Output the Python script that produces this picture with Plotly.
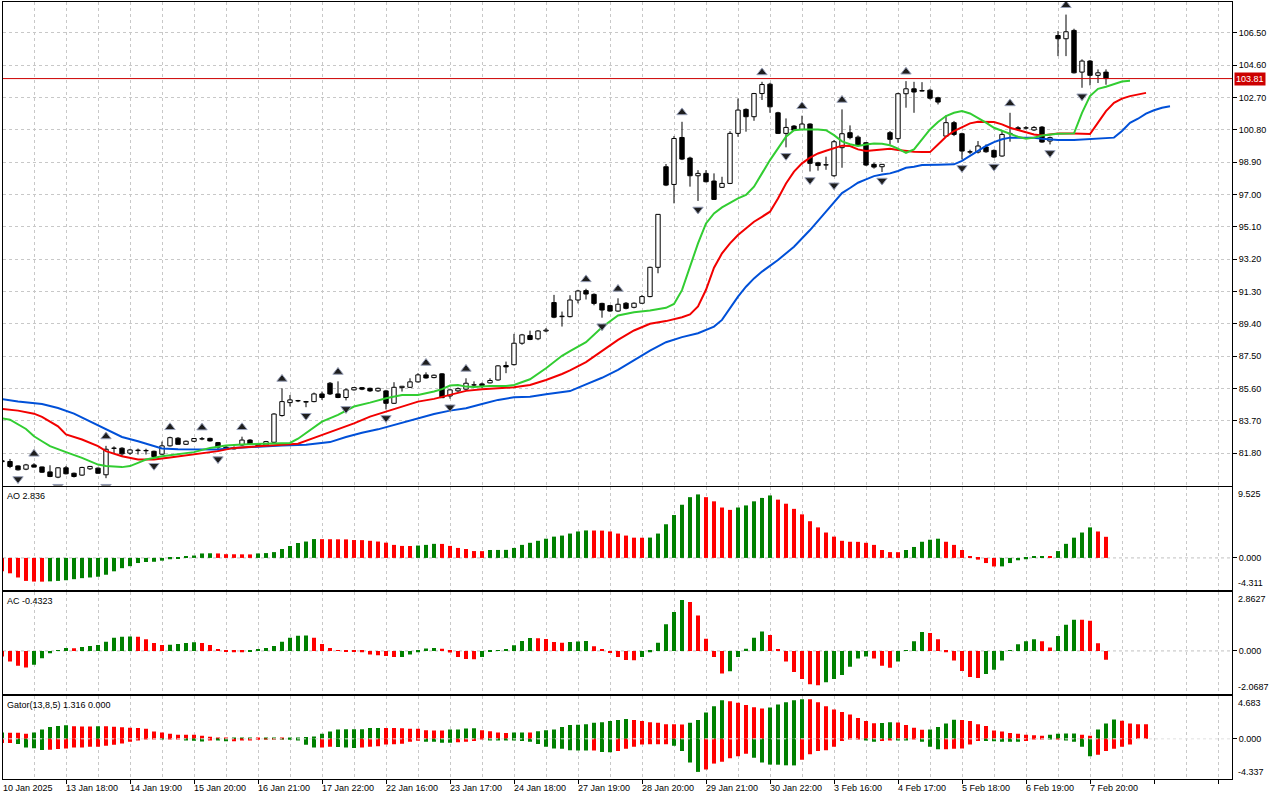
import plotly.graph_objects as go

# ---------------- data ----------------
date_labels = ["10 Jan 2025", "13 Jan 18:00", "14 Jan 19:00", "15 Jan 20:00", "16 Jan 21:00",
               "17 Jan 22:00", "22 Jan 16:00", "23 Jan 17:00", "24 Jan 18:00", "27 Jan 19:00",
               "28 Jan 20:00", "29 Jan 21:00", "30 Jan 22:00", "3 Feb 16:00", "4 Feb 17:00",
               "5 Feb 18:00", "6 Feb 19:00", "7 Feb 20:00"]
date_bars = list(range(0, 137, 8))

opens = [81.35,81.31,81.05,80.86,81.11,80.99,80.70,80.39,80.94,80.62,
         80.51,80.88,80.92,80.53,82.08,82.09,81.80,81.95,81.94,81.91,
         81.74,82.23,82.68,82.32,82.50,82.63,82.67,82.42,82.15,82.05,
         82.28,82.57,82.34,82.28,82.44,84.01,84.77,84.87,84.83,84.83,
         85.28,85.91,85.28,85.07,85.52,85.65,85.61,85.46,85.46,84.73,
         85.65,85.67,85.99,86.40,86.24,86.46,85.16,85.46,85.56,85.80,
         85.87,85.93,86.10,86.95,87.00,88.26,88.71,88.52,88.98,90.65,
         89.82,89.82,90.80,91.35,91.13,90.60,90.47,90.15,90.61,90.37,
         90.61,91.00,92.72,98.63,97.59,100.35,99.14,98.10,98.24,97.79,
         97.42,97.65,100.59,102.00,101.57,102.93,103.48,101.80,100.59,101.02,
         100.82,101.14,98.86,98.73,98.10,99.75,100.63,100.37,100.04,98.77,
         98.63,100.63,100.28,102.92,103.21,103.10,103.13,102.68,100.43,101.22,
         100.57,99.50,99.49,99.79,99.59,99.26,100.57,100.92,100.90,100.79,
         100.96,100.14,106.34,106.15,106.64,104.19,104.84,104.00,104.19]
highs = [81.50,81.46,81.08,81.17,81.21,81.01,81.09,80.98,81.05,80.66,
         81.00,81.05,80.96,82.23,82.20,82.15,82.05,82.07,82.06,81.95,
         82.48,82.77,82.74,82.54,82.68,82.75,82.71,82.46,82.22,82.20,
         82.77,82.62,82.38,82.52,84.15,85.61,85.22,84.93,84.87,85.36,
         85.42,85.98,86.02,85.61,85.69,85.69,85.65,85.65,85.52,85.97,
         85.75,86.20,86.50,86.55,86.42,86.50,85.56,85.66,86.20,86.02,
         85.95,86.20,86.97,87.18,88.81,88.81,89.00,89.03,89.15,91.10,
         90.12,91.08,91.40,91.46,91.19,90.64,90.51,90.90,90.68,90.66,
         91.10,92.76,95.85,98.79,100.43,101.27,99.22,98.43,98.43,98.24,
         98.04,100.72,102.64,102.06,102.97,103.62,103.56,101.86,101.47,101.08,
         101.63,101.18,98.92,99.22,100.20,102.00,101.06,100.47,100.08,98.87,
         98.77,100.73,102.98,103.66,103.62,103.60,103.21,102.74,101.65,101.32,
         100.63,99.63,100.14,99.94,99.65,100.73,101.80,101.02,101.02,101.02,
         101.02,100.40,106.60,107.57,106.74,104.94,104.90,104.35,104.35]
lows = [81.15,80.92,80.78,80.80,80.96,80.64,80.39,80.33,80.55,80.37,
        80.47,80.82,80.60,80.33,81.80,81.60,81.70,81.72,81.72,81.56,
        81.70,82.19,82.30,82.28,82.45,82.56,82.48,81.95,82.00,82.02,
        82.23,82.30,82.20,82.22,82.38,83.95,84.54,84.80,84.50,84.79,
        84.93,85.22,85.03,84.90,85.48,85.50,85.40,85.40,84.37,84.69,
        85.42,85.63,85.95,86.18,86.20,85.04,85.00,85.38,85.52,85.70,
        85.62,85.90,86.06,86.50,86.95,88.17,88.44,88.44,88.91,89.73,
        89.24,89.78,90.60,90.83,90.49,89.76,90.11,90.11,90.25,90.31,
        90.57,90.96,92.37,97.49,96.48,99.02,97.46,96.62,97.71,96.70,
        97.38,97.61,100.39,100.69,101.33,102.55,101.80,100.55,99.77,100.74,
        100.78,98.35,98.40,98.45,98.04,98.57,100.24,99.85,98.67,98.52,
        98.32,99.94,100.04,102.10,101.80,103.06,102.58,102.29,100.39,100.43,
        99.06,99.37,99.41,99.45,99.14,99.22,100.10,100.73,100.83,100.73,
        100.04,99.94,105.13,105.13,104.11,103.27,103.41,103.55,103.45]
closes = [81.30,81.02,80.82,81.11,80.98,80.68,80.43,80.94,80.59,80.43,
          80.96,81.02,80.62,82.03,82.10,81.76,81.99,81.98,81.96,81.60,
          82.23,82.71,82.32,82.50,82.66,82.65,82.52,82.15,82.02,82.12,
          82.57,82.34,82.25,82.48,84.10,84.83,84.93,84.88,84.80,85.28,
          85.07,85.28,85.07,85.52,85.65,85.56,85.46,85.61,84.73,85.67,
          85.73,85.99,86.40,86.22,86.38,85.06,85.52,85.59,85.91,85.82,
          85.77,86.07,86.93,86.87,88.26,88.75,88.48,88.98,89.03,89.79,
          89.85,90.80,91.33,91.15,90.60,90.21,90.15,90.55,90.31,90.61,
          91.00,92.72,95.83,97.55,100.29,99.08,98.10,98.24,97.75,96.71,
          97.65,100.59,101.96,101.57,102.93,103.46,102.15,100.59,100.94,100.78,
          101.14,98.83,98.70,98.75,100.10,100.57,100.34,99.89,98.73,98.61,
          98.77,100.24,102.92,103.21,103.02,103.08,102.66,102.43,101.22,100.53,
          99.55,99.49,99.85,99.51,99.20,100.53,100.58,100.83,100.92,100.94,
          100.08,100.34,106.15,106.56,104.15,104.84,104.00,104.15,103.81]

# Alligator lines (read at the bars where they were measured)
jaw_x = [0,2,5,7,9,11,13,15,17,19,20,22,25,27,29,31,33,35,38,41,43,45,47,50,52,54,56,58,60,62,
         64,66,68,70,71,73,75,77,79,81,83,85,87,89,90,91,92,93,94,95,97,99,101,103,104,105,106,
         107,108,109,110,111,112,113,114,115,117,119,120,121,122,123,124,125,126,129,130,132,134,
         136,138,139,140,141,142,143,144,145,146]
jaw_y = [84.98,84.84,84.69,84.45,84.12,83.67,83.18,82.75,82.50,82.21,82.07,82.03,82.01,82.01,82.11,
         82.17,82.21,82.25,82.30,82.45,82.75,83.00,83.20,83.59,83.85,84.10,84.30,84.44,84.69,84.93,
         85.08,85.12,85.26,85.40,85.45,85.84,86.23,86.70,87.29,87.83,88.32,88.62,88.85,89.24,89.63,
         90.31,91.00,91.58,92.07,92.47,93.15,93.93,94.91,95.99,96.57,97.08,97.38,97.69,97.89,98.08,
         98.18,98.24,98.38,98.57,98.63,98.73,98.75,98.77,98.97,99.26,99.55,99.85,100.08,100.24,100.34,
         100.34,100.28,100.20,100.20,100.24,100.28,100.34,100.73,101.21,101.45,101.75,101.95,102.10,102.18]
teeth_x = [0,2,4,5,7,8,10,12,13,15,17,19,21,23,25,27,29,31,33,35,37,39,41,42,44,46,48,50,52,54,
           56,58,60,62,64,66,68,70,71,73,75,77,79,81,83,85,86,87,88,89,90,91,92,93,94,95,96,97,98,
           99,100,101,102,103,104,105,106,107,108,109,110,111,112,113,114,115,116,117,118,119,120,
           121,122,123,124,125,126,127,128,129,130,131,132,134,135,136,137,138,139,140,141,142,143]
teeth_y = [84.40,84.30,84.12,83.93,83.38,82.90,82.60,82.21,81.92,81.62,81.43,81.43,81.54,81.66,81.76,
           81.92,82.11,82.17,82.21,82.25,82.35,82.70,83.05,83.22,83.55,83.95,84.24,84.54,84.83,84.99,
           85.22,85.46,85.56,85.61,85.67,85.81,86.10,86.45,86.66,87.15,87.83,88.46,89.01,89.40,89.56,
           89.79,89.95,90.42,91.40,92.70,93.54,94.13,94.62,95.01,95.40,95.69,95.99,96.77,97.65,98.34,
           98.83,99.16,99.41,99.57,99.71,99.87,99.85,99.65,99.55,99.61,99.65,99.69,99.61,99.55,99.51,
           99.49,99.49,99.94,100.39,100.73,100.98,101.18,101.27,101.27,101.26,101.12,100.92,100.79,
           100.67,100.53,100.47,100.53,100.59,100.59,100.59,100.55,101.22,101.90,102.39,102.63,102.78,
           102.88,102.97]
lips_x = [0,1,3,4,5,6,8,10,12,13,15,16,17,18,20,22,24,26,28,30,32,35,36,37,38,40,42,44,46,48,
          50,52,54,55,56,57,58,59,61,63,64,66,68,70,71,73,75,77,79,81,83,84,85,86,87,88,89,90,91,
          92,93,94,95,96,97,98,99,100,102,103,104,105,106,107,108,109,110,111,112,113,114,115,116,
          117,118,119,120,121,122,123,124,125,126,127,128,129,130,131,132,134,135,136,137,138,139,
          140,141]
lips_y = [83.85,83.77,83.22,82.79,82.50,82.21,81.86,81.52,81.13,81.04,80.98,81.04,81.23,81.43,81.62,
          81.72,81.86,82.11,82.25,82.31,82.34,82.38,82.40,82.65,83.00,83.65,84.05,84.54,84.77,85.03,
          85.22,85.22,85.42,85.56,85.77,85.81,85.71,85.69,85.75,85.75,85.81,86.14,86.79,87.52,87.80,
          88.32,89.20,89.89,90.08,90.18,90.34,90.57,91.38,92.76,94.13,95.30,95.89,96.24,96.52,96.77,
          96.97,97.46,98.24,99.02,99.71,100.39,100.78,100.82,100.82,100.78,100.49,100.12,99.95,99.85,
          99.94,100.00,99.98,99.89,99.69,99.45,99.65,100.24,100.82,101.26,101.61,101.80,101.90,101.76,
          101.51,101.22,100.92,100.73,100.57,100.39,100.28,100.34,100.47,100.53,100.57,100.59,101.80,
          102.78,103.21,103.33,103.47,103.64,103.68]

up_fractals = [4,13,21,25,30,35,42,53,58,73,77,85,95,100,105,113,126,133]
down_fractals = [2,7,13,19,27,38,43,48,56,75,87,98,101,104,110,120,124,131,135]

ao = [-1.80,-2.07,-2.63,-3.09,-3.18,-3.19,-3.15,-3.09,-3.00,-2.86,
      -2.72,-2.63,-2.53,-2.26,-1.80,-1.38,-1.11,-0.69,-0.55,-0.52,
      -0.37,-0.18,-0.05,0.18,0.32,0.60,0.62,0.60,0.50,0.49,
      0.48,0.47,0.60,0.65,0.78,1.20,1.60,2.00,2.20,2.53,
      2.52,2.51,2.50,2.49,2.40,2.39,2.30,2.20,2.05,1.75,
      1.61,1.60,1.66,1.75,1.89,1.88,1.61,1.34,1.20,0.92,
      0.91,1.06,1.07,1.08,1.34,1.75,2.03,2.30,2.58,2.86,
      3.00,3.27,3.55,3.69,3.68,3.67,3.55,3.27,3.00,2.72,
      2.71,2.73,3.27,4.52,5.76,7.14,8.16,8.53,8.16,7.60,
      6.77,6.45,6.77,7.05,7.60,8.06,8.39,7.83,7.28,6.59,
      5.85,4.93,4.10,3.41,2.86,2.30,2.17,2.16,2.03,1.75,
      1.06,0.78,0.77,1.06,1.47,2.17,2.44,2.58,2.17,1.75,
      1.06,0.23,-0.23,-0.69,-1.15,-1.14,-0.69,-0.32,-0.18,0.14,
      0.23,0.14,0.92,1.89,2.72,3.41,4.10,3.55,2.836]
ac = [-0.27,-0.52,-0.72,-0.80,-0.67,-0.36,-0.11,0.02,0.14,0.13,
      0.19,0.24,0.29,0.44,0.64,0.69,0.70,0.69,0.57,0.39,
      0.29,0.30,0.34,0.39,0.42,0.39,0.29,0.09,-0.02,-0.06,
      -0.07,-0.03,0.07,0.14,0.24,0.44,0.64,0.74,0.75,0.64,
      0.34,0.14,0.01,-0.01,-0.02,-0.06,-0.17,-0.21,-0.25,-0.30,
      -0.29,-0.17,-0.07,0.12,0.14,0.10,-0.08,-0.30,-0.39,-0.40,
      -0.29,-0.05,0.03,0.08,0.28,0.48,0.63,0.62,0.58,0.43,
      0.40,0.43,0.46,0.48,0.23,0.06,-0.10,-0.30,-0.44,-0.45,
      -0.30,-0.07,0.40,1.29,1.89,2.47,2.38,1.72,0.59,-0.30,
      -1.10,-0.99,-0.30,0.11,0.64,0.94,0.77,0.07,-0.52,-1.02,
      -1.37,-1.62,-1.67,-1.52,-1.37,-1.17,-0.77,-0.37,-0.27,-0.37,
      -0.72,-0.82,-0.52,0.02,0.47,0.92,0.87,0.57,-0.06,-0.47,
      -0.97,-1.27,-1.32,-1.12,-0.92,-0.47,0.02,0.32,0.47,0.57,
      0.47,0.17,0.72,1.27,1.52,1.51,1.47,0.37,-0.4323]
gator_up = [0.68,0.67,0.66,0.56,0.68,1.02,1.28,1.39,1.47,1.35,
            1.34,1.33,1.36,1.35,1.32,1.24,1.20,1.16,1.09,0.79,
            0.68,0.56,0.45,0.44,0.43,0.34,0.22,0.11,0.04,0.10,
            0.12,0.13,0.10,0.11,0.12,0.10,0.12,0.13,0.20,0.26,
            0.56,0.79,1.02,1.03,1.04,1.05,1.17,1.18,1.17,1.16,
            1.15,1.09,1.08,0.94,0.90,0.89,1.00,1.01,1.13,1.14,
            0.94,0.83,0.68,0.64,0.68,0.69,0.68,0.83,0.94,1.02,
            1.28,1.50,1.51,1.58,1.73,1.80,1.92,2.03,2.14,2.03,
            1.92,1.80,1.73,1.58,1.57,1.56,1.73,2.03,2.86,3.53,
            4.17,4.06,3.91,3.65,3.42,3.27,3.38,3.72,3.95,4.17,
            4.29,4.28,3.95,3.53,3.16,2.90,2.63,2.26,1.92,1.69,
            1.70,1.80,1.77,1.50,1.20,0.98,1.01,1.28,1.65,2.05,
            2.03,1.92,1.58,1.39,0.90,0.79,0.64,0.56,0.45,0.38,
            0.34,0.45,0.56,0.57,0.58,0.45,0.34,1.02,1.65,2.10,
            1.95,1.65,1.58,1.57]
gator_dn = [-0.45,-0.44,-0.56,-0.94,-1.01,-1.20,-1.17,-1.09,-1.05,-0.94,
            -0.93,-0.86,-0.85,-0.75,-0.64,-0.49,-0.30,-0.08,-0.04,-0.02,
            -0.05,-0.03,-0.02,-0.15,-0.20,-0.28,-0.10,-0.18,-0.27,-0.26,
            -0.18,-0.08,-0.04,-0.03,-0.02,-0.04,-0.06,-0.18,-0.64,-0.94,
            -0.93,-0.86,-0.87,-0.94,-1.00,-0.94,-0.86,-0.80,-0.60,-0.59,
            -0.53,-0.30,-0.20,-0.30,-0.31,-0.41,-0.42,-0.38,-0.30,-0.23,
            -0.02,-0.10,-0.11,-0.12,-0.19,-0.23,-0.30,-0.56,-0.86,-1.05,
            -1.06,-1.24,-1.25,-1.26,-1.25,-1.43,-1.44,-1.32,-1.06,-0.86,
            -0.60,-0.59,-0.58,-0.57,-0.75,-1.32,-2.56,-3.57,-3.31,-2.67,
            -2.48,-2.10,-1.88,-1.62,-2.05,-2.56,-2.78,-2.79,-2.86,-2.87,
            -2.26,-1.65,-1.32,-1.24,-0.86,-0.23,-0.05,-0.02,-0.11,-0.30,
            -0.23,-0.11,-0.12,-0.13,-0.05,-0.30,-0.86,-1.13,-1.12,-1.06,
            -1.05,-0.60,-0.23,-0.24,-0.25,-0.30,-0.31,-0.32,-0.23,-0.02,
            -0.01,-0.04,-0.02,-0.11,-0.30,-0.86,-1.88,-1.73,-1.32,-1.06,
            -0.86,-0.60]

price_ticks = [81.80, 83.70, 85.60, 87.50, 89.40, 91.30, 93.20, 95.10, 97.00, 98.90,
               100.80, 102.70, 104.60, 106.50]
main_range = [79.90, 108.31]
ao_range = [-4.311, 9.525]
ac_range = [-2.0687, 2.8627]
gator_range = [-4.337, 4.683]
gator_title = "Gator(13,8,5) 1.316 0.000"

# ---------------- styles ----------------
GREEN = "#008000"
RED = "#ff0000"
GRID = "#c8c8c8"
DASH = "3px,3px"
FONT = "Liberation Sans, Arial, sans-serif"
FS = 9

def updown(vals, use_abs=False, first=RED):
    out = []
    for i, v in enumerate(vals):
        if i == 0:
            out.append(first)
            continue
        a = abs(v) if use_abs else v
        b = abs(vals[i - 1]) if use_abs else vals[i - 1]
        out.append(GREEN if a > b else RED)
    return out

n = len(opens)
idx = list(range(n))
body_lo = [min(o, c) for o, c in zip(opens, closes)]
body_hi = [max(o, c) for o, c in zip(opens, closes)]
body_h = [max(h - l, 0.02) for h, l in zip(body_hi, body_lo)]
body_fill = ["white" if c >= o else "black" for o, c in zip(opens, closes)]

wx, wy = [], []
for i in idx:
    wx += [i, i, None, i, i, None]
    wy += [lows[i], body_lo[i], None, body_hi[i], highs[i], None]

fig = go.Figure()

fig.add_trace(go.Bar(x=idx, y=body_h, base=body_lo, width=0.55,
                     marker=dict(color=body_fill, line=dict(color="black", width=1)),
                     xaxis="x", yaxis="y", hoverinfo="skip"))
fig.add_trace(go.Scatter(x=wx, y=wy, mode="lines", line=dict(color="black", width=1),
                         xaxis="x", yaxis="y", hoverinfo="skip"))
fig.add_trace(go.Scatter(x=jaw_x, y=jaw_y, mode="lines", line=dict(color="#0050d8", width=2),
                         xaxis="x", yaxis="y"))
fig.add_trace(go.Scatter(x=teeth_x, y=teeth_y, mode="lines", line=dict(color="#f20000", width=2),
                         xaxis="x", yaxis="y"))
fig.add_trace(go.Scatter(x=lips_x, y=lips_y, mode="lines", line=dict(color="#32cd32", width=2),
                         xaxis="x", yaxis="y"))

up_off = 0.55
dn_off = 0.5
fig.add_trace(go.Scatter(x=up_fractals, y=[highs[i] + up_off for i in up_fractals], mode="markers",
                         marker=dict(symbol="triangle-up", size=9, color="#1e1e1e",
                                     line=dict(color="#98a0b8", width=1)),
                         xaxis="x", yaxis="y"))
fig.add_trace(go.Scatter(x=down_fractals, y=[lows[i] - dn_off for i in down_fractals], mode="markers",
                         marker=dict(symbol="triangle-down", size=9, color="#1e1e1e",
                                     line=dict(color="#98a0b8", width=1)),
                         xaxis="x", yaxis="y"))

fig.add_trace(go.Bar(x=idx, y=ao, width=0.5, marker=dict(color=updown(ao), line=dict(width=0)),
                     xaxis="x2", yaxis="y2"))
fig.add_trace(go.Bar(x=idx, y=ac, width=0.5, marker=dict(color=updown(ac), line=dict(width=0)),
                     xaxis="x3", yaxis="y3"))
fig.add_trace(go.Bar(x=list(range(len(gator_up))), y=gator_up, width=0.5,
                     marker=dict(color=updown(gator_up, True, GREEN), line=dict(width=0)),
                     xaxis="x4", yaxis="y4"))
fig.add_trace(go.Bar(x=list(range(len(gator_dn))), y=gator_dn, width=0.5,
                     marker=dict(color=updown(gator_dn, True, RED), line=dict(width=0)),
                     xaxis="x4", yaxis="y4"))

# ---------------- layout ----------------
def frac(ypx):
    return (779 - ypx) / 777.0

xr = [0.125, 153.75]
def xax(anchor, bottom=False):
    d = dict(range=xr, anchor=anchor, tickmode="linear", tick0=0, dtick=8,
             showgrid=True, gridcolor=GRID, griddash=DASH, gridwidth=1,
             minor=dict(tick0=0, dtick=4, showgrid=True, gridcolor=GRID, griddash=DASH, gridwidth=1),
             showticklabels=False, showline=True, mirror=True, linecolor="black", linewidth=1,
             zeroline=False, fixedrange=True)
    if bottom:
        d.update(ticks="outside", ticklen=4, tickcolor="black", tickwidth=1)
    else:
        d.update(ticks="")
    if anchor != "y":
        d["matches"] = "x"
    return d

def yax(dom, rng, anchor):
    return dict(domain=dom, range=rng, anchor=anchor, side="right", showline=True, mirror=True,
                linecolor="black", linewidth=1, zeroline=False, ticks="outside", ticklen=4,
                tickcolor="black", tickfont=dict(family=FONT, size=FS, color="black"),
                fixedrange=True)

ymain = yax([frac(485.5), 1.0], main_range, "x")
ymain.update(tickvals=price_ticks, ticktext=[f"{v:.2f}" for v in price_ticks],
             showgrid=True, gridcolor=GRID, griddash=DASH, gridwidth=1)
y2 = yax([frac(590), frac(487)], ao_range, "x2")
y2.update(tickvals=[0], ticktext=["0.000"], showgrid=False)
y3 = yax([frac(693.5), frac(592)], ac_range, "x3")
y3.update(tickvals=[0], ticktext=["0.000"], showgrid=False)
y4 = yax([0.0, frac(695.5)], gator_range, "x4")
y4.update(tickvals=[0], ticktext=["0.000"], showgrid=False)

shapes = [
    dict(type="line", xref="x domain", x0=0, x1=1, yref="y", y0=closes[-1], y1=closes[-1],
         line=dict(color="#cc0000", width=1), layer="above"),
    dict(type="line", xref="x2 domain", x0=0, x1=1, yref="y2", y0=0, y1=0,
         line=dict(color="#c0c0c0", width=1, dash=DASH), layer="below"),
    dict(type="line", xref="x3 domain", x0=0, x1=1, yref="y3", y0=0, y1=0,
         line=dict(color="#c0c0c0", width=1, dash=DASH), layer="below"),
    dict(type="line", xref="x4 domain", x0=0, x1=1, yref="y4", y0=0, y1=0,
         line=dict(color="#e0e0e0", width=1, dash=DASH), layer="above"),
]

tf = dict(family=FONT, size=FS, color="black")
ann = []
for b, t in zip(date_bars, date_labels):
    ann.append(dict(x=max(b, xr[0] + 0.01), xref="x4", y=frac(788), yref="paper", text=t,
                    showarrow=False, xanchor="left", yanchor="middle", xshift=-2, font=tf))
ann.append(dict(x=0.002, xref="paper", y=frac(496), yref="paper", text=f"AO {ao[-1]:.3f}",
                showarrow=False, xanchor="left", yanchor="middle", font=tf))
ann.append(dict(x=0.002, xref="paper", y=frac(601), yref="paper", text=f"AC {ac[-1]:.4f}",
                showarrow=False, xanchor="left", yanchor="middle", font=tf))
ann.append(dict(x=0.002, xref="paper", y=frac(704.5), yref="paper", text=gator_title,
                showarrow=False, xanchor="left", yanchor="middle", font=tf))
for yref, rng, fmt in [("y2", ao_range, "{:.3f}"), ("y3", ac_range, "{:.4f}"), ("y4", gator_range, "{:.3f}")]:
    ann.append(dict(x=1, xref="paper", y=rng[1], yref=yref, text=fmt.format(rng[1]), showarrow=False,
                    xanchor="left", yanchor="top", xshift=4, font=tf))
    ann.append(dict(x=1, xref="paper", y=rng[0], yref=yref, text=fmt.format(rng[0]), showarrow=False,
                    xanchor="left", yanchor="bottom", xshift=4, font=tf))
ann.append(dict(x=1, xref="paper", y=closes[-1], yref="y", text=f"{closes[-1]:.2f}", showarrow=False,
                xanchor="left", yanchor="middle", xshift=2, bgcolor="#cc0000", borderpad=1,
                font=dict(family=FONT, size=FS, color="white")))

fig.update_layout(
    width=1280, height=800, autosize=False,
    margin=dict(l=3, r=48, t=2, b=21),
    paper_bgcolor="white", plot_bgcolor="white",
    showlegend=False, barmode="overlay", hovermode=False,
    xaxis=xax("y"), xaxis2=xax("y2"), xaxis3=xax("y3"), xaxis4=xax("y4", bottom=True),
    yaxis=ymain, yaxis2=y2, yaxis3=y3, yaxis4=y4,
    shapes=shapes, annotations=ann,
    font=tf,
)

fig.write_html("out.html", config={"displayModeBar": False},
               post_script="document.body.style.margin='0';document.body.style.overflow='hidden';")
